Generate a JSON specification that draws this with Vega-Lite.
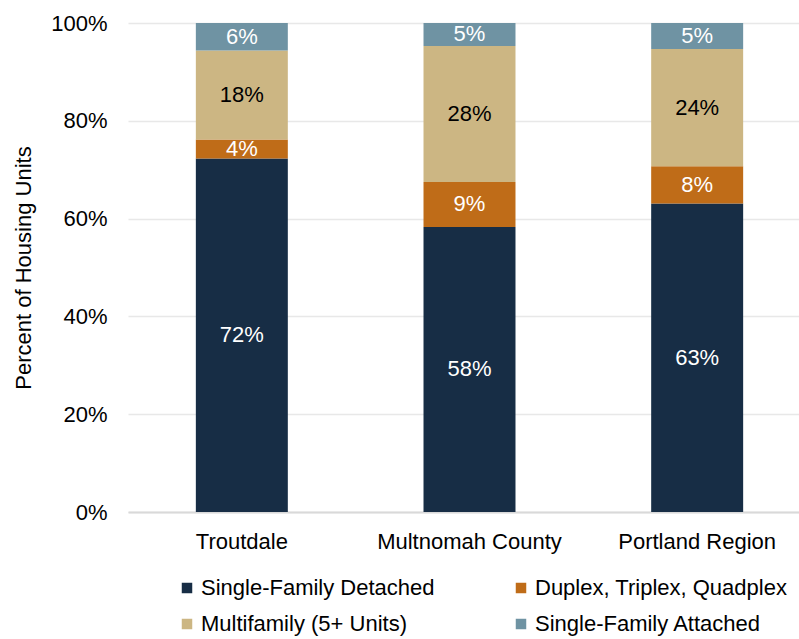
{
  "$schema": "https://vega.github.io/schema/vega-lite/v6.json",
  "width": 683,
  "height": 489,
  "padding": {"left": 12, "top": 12, "right": 5, "bottom": 5},
  "background": "white",
  "config": {
    "view": {"stroke": null},
    "font": "Liberation Sans",
    "axis": {"labelFont": "Liberation Sans", "titleFont": "Liberation Sans", "labelColor": "#000000", "titleColor": "#000000"},
    "legend": {"labelFont": "Liberation Sans"}
  },
  "data": {
    "values": [
      {"place": "Troutdale", "type": "Single-Family Detached", "rank": 1, "pct": 0.723},
      {"place": "Troutdale", "type": "Duplex, Triplex, Quadplex", "rank": 2, "pct": 0.039},
      {"place": "Troutdale", "type": "Multifamily (5+ Units)", "rank": 3, "pct": 0.182},
      {"place": "Troutdale", "type": "Single-Family Attached", "rank": 4, "pct": 0.056},
      {"place": "Multnomah County", "type": "Single-Family Detached", "rank": 1, "pct": 0.583},
      {"place": "Multnomah County", "type": "Duplex, Triplex, Quadplex", "rank": 2, "pct": 0.092},
      {"place": "Multnomah County", "type": "Multifamily (5+ Units)", "rank": 3, "pct": 0.278},
      {"place": "Multnomah County", "type": "Single-Family Attached", "rank": 4, "pct": 0.047},
      {"place": "Portland Region", "type": "Single-Family Detached", "rank": 1, "pct": 0.631},
      {"place": "Portland Region", "type": "Duplex, Triplex, Quadplex", "rank": 2, "pct": 0.076},
      {"place": "Portland Region", "type": "Multifamily (5+ Units)", "rank": 3, "pct": 0.240},
      {"place": "Portland Region", "type": "Single-Family Attached", "rank": 4, "pct": 0.053}
    ]
  },
  "encoding": {
    "x": {
      "field": "place",
      "type": "nominal",
      "sort": ["Troutdale", "Multnomah County", "Portland Region"],
      "scale": {"paddingInner": 0.596, "paddingOuter": 0.298},
      "axis": {
        "title": null,
        "labelAngle": 0,
        "labelFontSize": 22,
        "labelPadding": 19,
        "labelLimit": 400,
        "ticks": false,
        "tickSize": 0,
        "domainColor": "#d9d9d9",
        "domainWidth": 2,
        "grid": false
      }
    },
    "y": {
      "field": "pct",
      "type": "quantitative",
      "stack": "zero",
      "scale": {"domain": [0, 1], "nice": false},
      "axis": {
        "title": "Percent of Housing Units",
        "titleFontSize": 22,
        "titleFontWeight": "normal",
        "titlePadding": 15,
        "format": ".0%",
        "values": [0, 0.2, 0.4, 0.6, 0.8, 1],
        "labelFontSize": 22,
        "labelPadding": 21,
        "ticks": false,
        "tickSize": 0,
        "domain": false,
        "gridColor": "#e8e8e8",
        "gridWidth": 1.5
      }
    },
    "order": {"field": "rank", "type": "quantitative", "sort": "ascending"}
  },
  "layer": [
    {
      "mark": {"type": "bar"},
      "encoding": {
        "color": {
          "field": "type",
          "type": "nominal",
          "scale": {
            "domain": ["Single-Family Detached", "Duplex, Triplex, Quadplex", "Multifamily (5+ Units)", "Single-Family Attached"],
            "range": ["#172d45", "#bf6c18", "#ccb683", "#6f93a3"]
          },
          "legend": {
            "title": null,
            "orient": "none",
            "legendX": 48,
            "legendY": 554,
            "direction": "horizontal",
            "columns": 2,
            "symbolType": "square",
            "symbolSize": 110,
            "symbolStrokeWidth": 0,
            "labelFontSize": 22,
            "labelColor": "#000000",
            "labelOffset": 3,
            "columnPadding": 75,
            "rowPadding": 14,
            "labelLimit": 400
          }
        }
      }
    },
    {
      "mark": {"type": "text", "fontSize": 22, "font": "Liberation Sans", "baseline": "middle"},
      "encoding": {
        "y": {"field": "pct", "type": "quantitative", "stack": "zero", "bandPosition": 0.5},
        "text": {"field": "pct", "type": "quantitative", "format": ".0%"},
        "color": {
          "condition": {"test": "datum.type === 'Multifamily (5+ Units)'", "value": "#000000"},
          "value": "#ffffff"
        }
      }
    }
  ]
}
